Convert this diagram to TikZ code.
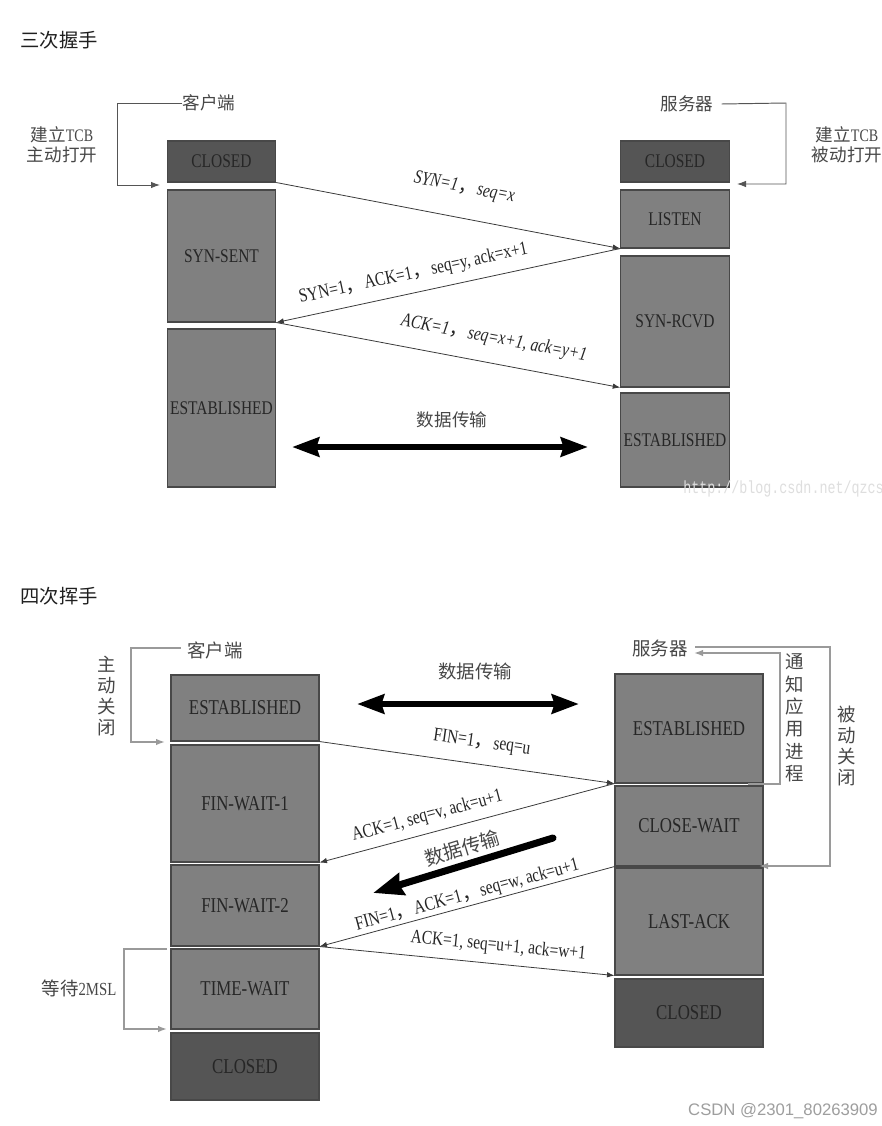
\documentclass[tikz,border=0pt]{standalone}
\usepackage{fontspec}
\setmainfont{Liberation Serif}[FakeStretch=0.8]
\newfontfamily\cjk{Noto Sans CJK SC}
\newfontfamily\wmfont{Liberation Mono}[FakeStretch=0.76]
\newfontfamily\csdnfont{Liberation Sans}
\usetikzlibrary{arrows.meta,calc}

\definecolor{boxgray}{HTML}{808080}
\definecolor{boxdark}{HTML}{555555}
\definecolor{boxline}{HTML}{484848}
\definecolor{boxtext}{HTML}{262626}
\definecolor{msgline}{HTML}{3A3A3A}
\definecolor{brkdark}{HTML}{555555}
\definecolor{brklight}{HTML}{9A9A9A}

\newcommand{\fc}{{\cjk ，}}

\tikzset{
  stbox/.style={draw=boxline, fill=boxgray, line width=0.6pt, text=boxtext,
    font=\color{boxtext}\fontsize{11}{13}\selectfont, inner sep=0pt},
  closedbox/.style={stbox, fill=boxdark},
  colA/.style={minimum width=21.7mm},
  colB/.style={minimum width=29.6mm, font=\color{boxtext}\fontsize{12}{14}\selectfont},
  tall/.style={minimum height=#1*0.2mm},
  msg/.style={draw=msgline, line width=0.45pt, -{Latex[length=1.5mm,width=1.1mm]}},
  msgtext/.style={font=\fontsize{11}{13}\selectfont, text=boxtext, sloped, inner sep=0pt},
  msgit/.style={msgtext, font=\fontsize{11}{13}\selectfont\itshape},
  heading/.style={font=\cjk\fontsize{11}{13}\selectfont, text=black!88, inner sep=0pt},
  cjktext/.style={font=\cjk\fontsize{10}{11.5}\selectfont, text=black!72, inner sep=0pt},
  cjkbig/.style={font=\cjk\fontsize{10.5}{12}\selectfont, text=black!72, inner sep=0pt},
  vtext/.style={cjkbig, align=center},
  brkA/.style={draw=brkdark, line width=0.55pt, -{Latex[length=1.8mm,width=1.3mm]}},
  brkB/.style={draw=brklight, line width=0.9pt, -{Latex[length=1.8mm,width=1.3mm]}},
  bigboth/.style={line width=3.6pt,
    {Stealth[length=5.4mm,width=3.8mm,inset=0.5mm]}-{Stealth[length=5.4mm,width=3.8mm,inset=0.5mm]}},
  bigone/.style={line width=4pt, line cap=round, -{Stealth[length=6mm,width=4.4mm,inset=0.5mm]}}
}

\begin{document}
\begin{tikzpicture}[x=0.2mm, y=-0.2mm]
\useasboundingbox[fill=white] (0,0) rectangle (882,1126);

% ---- three-way handshake
\node[heading] (hs3) at (59,40) {三次握手};
\begin{scope}
  \node[closedbox, colA, tall=41] (cClosed) at (221.5,161.5) {CLOSED};
  \node[stbox, colA, tall=132] (cSynSent) at (221.5,256) {SYN-SENT};
  \node[stbox, colA, tall=158] (cEst) at (221.5,408) {ESTABLISHED};
  \node[closedbox, colA, tall=41] (sClosed) at (675,161.5) {CLOSED};
  \node[stbox, colA, tall=58] (sListen) at (675,219) {LISTEN};
  \node[stbox, colA, tall=131] (sSynRcvd) at (675,321.5) {SYN-RCVD};
  \node[stbox, colA, tall=94] (sEst) at (675,440) {ESTABLISHED};

  \node[cjktext] (cli1) at (209,103) {客户端};
  \node[cjktext] (srv1) at (687,104) {服务器};
  \node[cjktext, align=center] (open1) at (62,145) {建立{\rmfamily TCB}\\主动打开};
  \node[cjktext, align=center] (open2) at (847,145) {建立{\rmfamily TCB}\\被动打开};
  \coordinate (cOpen) at (160,185);
  \coordinate (sOpen) at (737,184);
  \draw[brkA] (cli1.west) -- (117,103) |- (cOpen);
  \draw[brkA] ($(srv1.east)+(8,0)$) -- (786,103) |- (sOpen);

  \draw[msg] (cClosed.south east) -- (sListen.south west)
    node[msgit, pos=0.53, above=4.2mm] {SYN=1\fc seq=x};
  \draw[msg] (sListen.south west) -- (cSynSent.south east)
    node[msgtext, pos=0.59, above=1.9mm] {SYN=1\fc ACK=1\fc seq=y, ack=x+1};
  \draw[msg] (cSynSent.south east) -- (sSynRcvd.south west)
    node[msgit, pos=0.62, above=3.1mm] {ACK=1\fc seq=x+1, ack=y+1};

  \coordinate (dt3L) at (292,447);
  \coordinate (dt3R) at (588,447);
  \draw[bigboth] (dt3L) -- (dt3R);
  \node[cjktext] (dt3) at (452,420) {数据传输};
  \node[anchor=east, inner sep=0pt, text=black!13,
    font=\wmfont\fontsize{10}{12}\selectfont] (wm) at (884,489) {http://blog.csdn.net/qzcs};
\end{scope}

% ---- four-way wave
\node[heading] (hs4) at (59,596) {四次挥手};
\begin{scope}
  \node[stbox, colB, tall=66] (cEst2) at (245,708) {ESTABLISHED};
  \node[stbox, colB, tall=117] (cFin1) at (245,803.5) {FIN-WAIT-1};
  \node[stbox, colB, tall=81] (cFin2) at (245,905.5) {FIN-WAIT-2};
  \node[stbox, colB, tall=80] (cTimeWait) at (245,989) {TIME-WAIT};
  \node[closedbox, colB, tall=67] (cClosed2) at (245,1066.5) {CLOSED};
  \node[stbox, colB, tall=109] (sEst2) at (689,728.5) {ESTABLISHED};
  \node[stbox, colB, tall=80] (sCloseWait) at (689,826) {CLOSE-WAIT};
  \node[stbox, colB, tall=107] (sLastAck) at (689,921.5) {LAST-ACK};
  \node[closedbox, colB, tall=68] (sClosed2) at (689,1013) {CLOSED};

  \node[cjkbig] (cli2) at (215,650) {客户端};
  \node[cjkbig] (srv2) at (660,648) {服务器};
  \node[vtext] (close1) at (107,696) {主\\动\\关\\闭};
  \node[vtext] (close2) at (847,746) {被\\动\\关\\闭};
  \node[vtext, font=\cjk\fontsize{10.5}{12.7}\selectfont] (notify) at (795,718) {通\\知\\应\\用\\进\\程};
  \node[cjkbig] (wait) at (79,988) {等待{\rmfamily 2MSL}};

  \coordinate (cClose) at (165,742);
  \coordinate (sCloseIn) at (759,866);
  \coordinate (sNotifyOut) at (748,784);
  \coordinate (sNotifyIn) at (694,653);
  \coordinate (cWaitOut) at (167,949);
  \coordinate (cWaitIn) at (167,1029);
  \draw[brkB] ($(cli2.west)+(-6,-2)$) -- (131,648) |- (cClose);
  \draw[brkB] ($(srv2.east)+(7,-1)$) -- (830,647) |- (sCloseIn);
  \draw[brkB] (sNotifyOut) -- (780,784) |- (sNotifyIn);
  \draw[brkB] (cWaitOut) -- (124,949) |- (cWaitIn);

  \coordinate (dt4L) at (357,704);
  \coordinate (dt4R) at (579,704);
  \draw[bigboth] (dt4L) -- (dt4R);
  \node[cjkbig] (dt4) at (475,671) {数据传输};

  \draw[msg] (cEst2.south east) -- (sEst2.south west)
    node[msgtext, pos=0.54, above=2.5mm] {FIN=1\fc seq=u};
  \draw[msg] (sEst2.south west) -- (cFin1.south east)
    node[msgtext, pos=0.62, above=1.5mm] {ACK=1, seq=v, ack=u+1};
  \draw[msg] (sCloseWait.south west) -- (cFin2.south east)
    node[msgtext, pos=0.49, above=0.3mm] {FIN=1\fc ACK=1\fc seq=w, ack=u+1};
  \draw[msg] (cFin2.south east) -- (sLastAck.south west)
    node[msgtext, pos=0.6, above=1.7mm] {ACK=1, seq=u+1, ack=w+1};

  \coordinate (dtTail) at (553,838);
  \coordinate (dtTip) at (373,893);
  \draw[bigone] (dtTail) -- (dtTip);
  \node[cjkbig, font=\cjk\fontsize{11}{13}\selectfont, rotate=17] (dt5) at (462,848) {数据传输};
\end{scope}

\node[text=black!38, inner sep=0pt, font=\csdnfont\fontsize{9.5}{11}\selectfont] (csdn) at (783,1111) {CSDN @2301\_80263909};
\end{tikzpicture}
\end{document}
